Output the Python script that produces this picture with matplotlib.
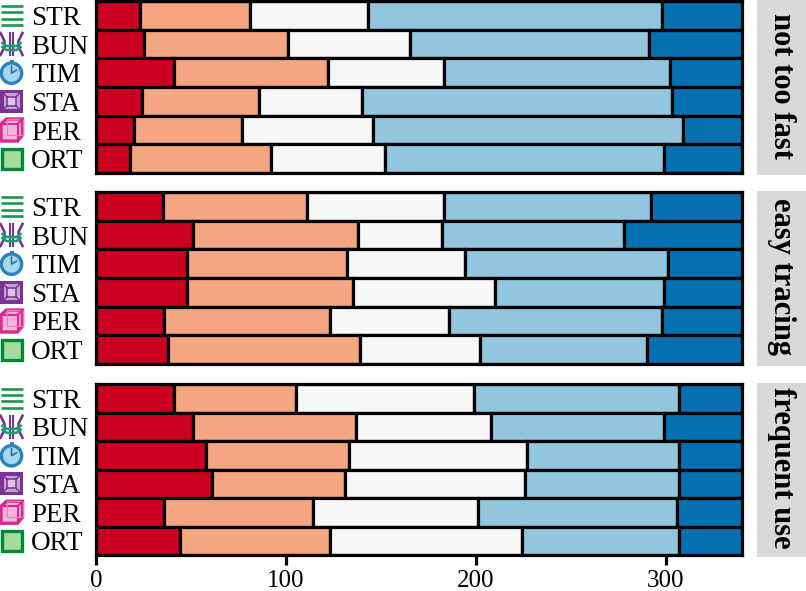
#!/usr/bin/env python3

import matplotlib

matplotlib.use("Agg")
import matplotlib.pyplot as plt
from matplotlib.patches import Circle, Polygon, Rectangle

W, H = 806, 591

techniques = ["STR", "BUN", "TIM", "STA", "PER", "ORT"]
panels = ["not too fast", "easy tracing", "frequent use"]
colors = ["#ca0020", "#f4a582", "#f7f7f7", "#92c5de", "#0571b0"]
xticks = [0, 100, 200, 300]

not_too_fast = [
    [23, 58, 62, 155, 42],
    [25, 76, 64, 126, 49],
    [41, 81, 61, 119, 38],
    [24, 62, 54, 163, 37],
    [20, 57, 69, 163, 31],
    [18, 74, 60, 147, 41],
]
easy_tracing = [
    [35, 76, 72, 109, 48],
    [51, 87, 44, 96, 62],
    [48, 84, 62, 107, 39],
    [48, 87, 75, 89, 41],
    [36, 87, 63, 112, 42],
    [38, 101, 63, 88, 50],
]
frequent_use = [
    [41, 64, 94, 108, 33],
    [51, 86, 71, 91, 41],
    [58, 75, 94, 80, 33],
    [61, 70, 95, 81, 33],
    [36, 78, 87, 105, 34],
    [44, 79, 101, 83, 33],
]
tables = [not_too_fast, easy_tracing, frequent_use]

plt.rcParams["font.family"] = ["Liberation Serif", "DejaVu Serif"]


def box(x0, y0, x1, y1):
    return [x0 / W, 1 - y1 / H, (x1 - x0) / W, (y1 - y0) / H]


def draw_icon(ax, name, cx, cy):
    if name == "STR":
        for dy in (-9.5, -3.2, 3.2, 9.5):
            ax.plot([cx - 11, cx + 11], [cy + dy, cy + dy], color="#1a9850", lw=1.9, solid_capstyle="butt")
    elif name == "BUN":
        purple = "#7b3294"
        green = "#1b9e77"
        for sx in (-1, 1):
            ax.plot([cx + sx * 11, cx + sx * 7, cx + sx * 7, cx + sx * 11], [cy - 11, cy - 3, cy + 3, cy + 11], color=purple, lw=1.9)
            ax.plot([cx + sx * 1.5, cx + sx * 1.5], [cy - 11, cy + 11], color=purple, lw=1.5)
        for dy in (0, 4):
            ax.plot([cx - 9, cx - 5, cx + 5, cx + 9], [cy - 1 + dy, cy + 2 + dy, cy + 2 + dy, cy - 1 + dy], color=green, lw=1.9)
    elif name == "TIM":
        ax.add_patch(Circle((cx, cy + 0.5), 10.2, fc="#a6d5ec", ec="#2b83ba", lw=2.4))
        ax.plot([cx, cx, cx + 5], [cy - 6.5, cy + 0.5, cy - 2.5], color="#2b6c99", lw=1.1)
        ax.add_patch(Rectangle((cx - 2, cy - 13), 4, 2.5, fc="#2b83ba", ec="none"))
    elif name == "STA":
        ax.add_patch(Rectangle((cx - 11.5, cy - 11.5), 23, 23, fc="#7b3294", ec="none"))
        ax.add_patch(Rectangle((cx - 8, cy - 8), 16, 16, fc="#c2a5cf", ec="none"))
        ax.add_patch(Rectangle((cx - 4.5, cy - 4.5), 9, 9, fc="#d9c6e3", ec="#7b3294", lw=1.1))
        for sx, sy in ((-1, -1), (1, -1), (-1, 1), (1, 1)):
            ax.plot([cx + sx * 8, cx + sx * 4.5], [cy + sy * 8, cy + sy * 4.5], color="#7b3294", lw=1.1)
    elif name == "PER":
        ax.add_patch(Polygon([(cx - 10.5, cy - 6), (cx - 5, cy - 11), (cx + 11, cy - 11), (cx + 11, cy + 5), (cx + 6, cy + 11), (cx - 10.5, cy + 11)],
                             fc="#f4b6d8", ec="#d9288f", lw=2.4))
        ax.add_patch(Rectangle((cx - 10.5, cy - 6), 16.5, 17, fc="none", ec="#d9288f", lw=1.5))
        ax.add_patch(Rectangle((cx - 5, cy - 11), 16, 16, fc="none", ec="#e77fbd", lw=0.9))
        ax.plot([cx + 6, cx + 11], [cy - 6, cy - 11], color="#d9288f", lw=1.5)
    elif name == "ORT":
        ax.add_patch(Rectangle((cx - 10, cy - 10), 20, 20, fc="#a6dba0", ec="#008837", lw=2.4))


fig = plt.figure(figsize=(W / 100, H / 100), dpi=100)

extents = [(1, 173), (192, 364), (384, 555)]
for i, (panel, table, (top, bottom)) in enumerate(zip(panels, tables, extents)):
    ax = fig.add_axes(box(96, top, 742, bottom))
    for row, values in enumerate(table):
        left = 0
        for value, color in zip(values, colors):
            ax.barh(row, value, left=left, height=1, color=color, edgecolor="black", linewidth=2.3)
            left += value
    ax.set_xlim(0, 340)
    ax.set_ylim(5.5, -0.5)
    ax.set_yticks(range(len(techniques)))
    ax.set_yticklabels(techniques, fontsize=19.5)
    ax.tick_params(axis="y", length=0, pad=0)
    for lbl in ax.get_yticklabels():
        lbl.set_horizontalalignment("left")
        lbl.set_x(-65 / 646)
    for spine in ax.spines.values():
        spine.set_linewidth(2.3)
    if i == 2:
        ax.set_xticks(xticks)
        ax.tick_params(axis="x", width=2.3, length=7.2, labelsize=18, pad=3.5)
    else:
        ax.set_xticks([])
    # grey strip on the right with the panel name
    strip = fig.add_axes(box(757, top - 1.5, 806, bottom + 1.5))
    strip.set_facecolor("#d9d9d9")
    strip.set_xticks([])
    strip.set_yticks([])
    for spine in strip.spines.values():
        spine.set_visible(False)
    strip.text(0.5, 0.507, panel, rotation=270, ha="center", va="center", fontsize=22, fontweight="bold",
               transform=strip.transAxes)

# overlay in pixel coordinates for the technique glyphs
overlay = fig.add_axes([0, 0, 1, 1], zorder=5)
overlay.set_xlim(0, W)
overlay.set_ylim(H, 0)
overlay.axis("off")
for top, bottom in extents:
    step = (bottom - top) / len(techniques)
    for row, name in enumerate(techniques):
        draw_icon(overlay, name, 11.5, top + step * (row + 0.5))

fig.savefig("out.png", dpi=100)
plt.close(fig)
